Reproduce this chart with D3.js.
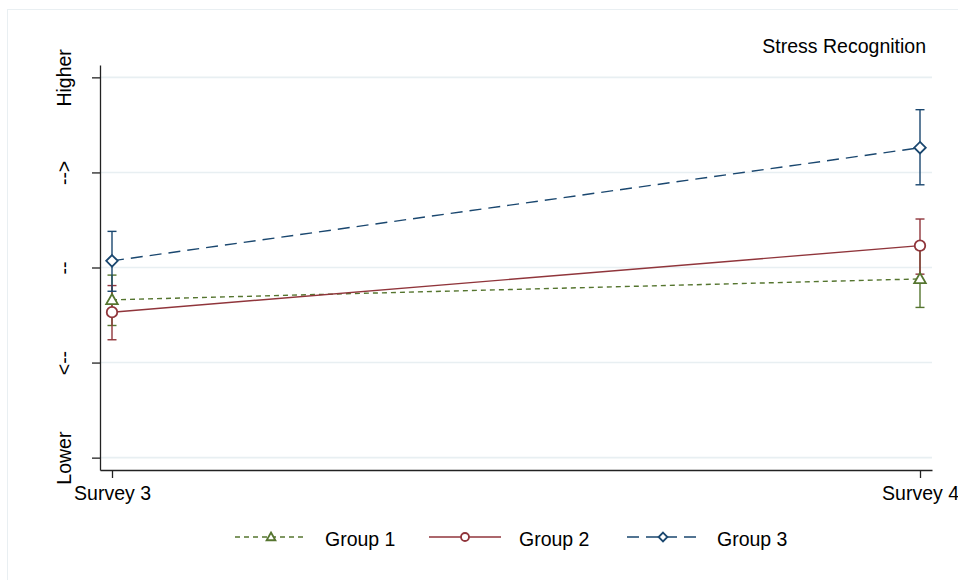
<!DOCTYPE html>
<html>
<head>
<meta charset="utf-8">
<script src="https://cdn.jsdelivr.net/npm/d3@7"></script>
<style>
  html, body { margin: 0; padding: 0; background: #fff; }
  svg { display: block; font-family: "Liberation Sans", Arial, Helvetica, sans-serif; }
</style>
</head>
<body>
<svg id="chart" width="958" height="580"></svg>
<script>
// Survey waves on the x axis
const surveys = ["Survey 3", "Survey 4"];
const groupNames = ["Group 1", "Group 2", "Group 3"];

// Mean scores and 95% interval bounds per survey
const group1Mean = [2.66, 2.88];
const group1Low  = [2.39, 2.58];
const group1High = [2.92, 3.19];

const group2Mean = [2.53, 3.23];
const group2Low  = [2.24, 2.93];
const group2High = [2.81, 3.51];

const group3Mean = [3.07, 4.26];
const group3Low  = [2.75, 3.87];
const group3High = [3.38, 4.66];

// Y axis ticks and their descriptive labels
const yTickValues = [1, 2, 3, 4, 5];
const yTickLabels = ["Lower", "<--", "--", "-->", "Higher"];

const chartTitle = "Stress Recognition";

// Series table built from the arrays above
const series = [
  { name: groupNames[0], mean: group1Mean, low: group1Low, high: group1High,
    color: "#55752f", dash: "5,4", marker: "triangle" },
  { name: groupNames[1], mean: group2Mean, low: group2Low, high: group2High,
    color: "#90353b", dash: null, marker: "circle" },
  { name: groupNames[2], mean: group3Mean, low: group3Low, high: group3High,
    color: "#1a476f", dash: "12,7", marker: "diamond" }
];

const fontSize = "19.5px";
const svg = d3.select("#chart");
const plotLeft = 100, plotRight = 932, plotTop = 65, plotBottom = 470;

// Light outer frame of the graph region
svg.append("rect")
  .attr("x", 7.5).attr("y", 9.5)
  .attr("width", 1000).attr("height", 1000)
  .attr("fill", "none")
  .attr("stroke", "#e9eff2")
  .attr("stroke-width", 1);

const x = d3.scalePoint()
  .domain(surveys)
  .range([plotLeft, plotRight])
  .padding(12 / 808);

const y = d3.scaleLinear()
  .domain([0.87, 5.13])
  .range([plotBottom, plotTop]);

// Horizontal grid lines
svg.append("g")
  .selectAll("line")
  .data(yTickValues)
  .join("line")
  .attr("x1", plotLeft).attr("x2", plotRight)
  .attr("y1", d => y(d)).attr("y2", d => y(d))
  .attr("stroke", "#e8eff2")
  .attr("stroke-width", 1.6);

// Y axis
const yAxis = svg.append("g")
  .attr("transform", `translate(${plotLeft},0)`)
  .call(d3.axisLeft(y)
    .tickValues(yTickValues)
    .tickFormat((d, i) => yTickLabels[i])
    .tickSize(8)
    .tickSizeOuter(0));
yAxis.select(".domain").attr("stroke", "#222").attr("stroke-width", 1.3);
yAxis.selectAll(".tick line").attr("stroke", "#222").attr("stroke-width", 1.3);
yAxis.selectAll(".tick text")
  .attr("x", null).attr("dy", null)
  .attr("transform", "translate(-29,0) rotate(-90)")
  .attr("text-anchor", "middle")
  .attr("fill", "#000")
  .style("font-size", fontSize)
  .style("font-family", "'Liberation Sans', Arial, sans-serif");

// X axis
const xAxis = svg.append("g")
  .attr("transform", `translate(0,${plotBottom})`)
  .call(d3.axisBottom(x).tickSize(8).tickSizeOuter(0));
xAxis.select(".domain").attr("stroke", "#222").attr("stroke-width", 1.3);
xAxis.selectAll(".tick line").attr("stroke", "#222").attr("stroke-width", 1.3);
xAxis.selectAll(".tick text")
  .attr("y", 30).attr("dy", null)
  .attr("fill", "#000")
  .style("font-size", fontSize)
  .style("font-family", "'Liberation Sans', Arial, sans-serif");

// Title in the top right corner
svg.append("text")
  .attr("x", 926).attr("y", 53)
  .attr("text-anchor", "end")
  .style("font-size", fontSize)
  .attr("fill", "#000")
  .text(chartTitle);

// Marker shapes
function markerPath(type, s) {
  if (type === "triangle") {
    const h = s * 0.9;
    return `M0,${-h * 0.62}L${s * 0.55},${h * 0.45}L${-s * 0.55},${h * 0.45}Z`;
  }
  if (type === "diamond") {
    return `M0,${-s * 0.55}L${s * 0.55},0L0,${s * 0.55}L${-s * 0.55},0Z`;
  }
  return null;
}

function drawMarker(g, type, cx, cy, s, color) {
  if (type === "circle") {
    g.append("circle")
      .attr("cx", cx).attr("cy", cy).attr("r", s * 0.5)
      .attr("fill", "#fff").attr("stroke", color).attr("stroke-width", 1.8);
  } else {
    g.append("path")
      .attr("d", markerPath(type, s))
      .attr("transform", `translate(${cx},${cy})`)
      .attr("fill", "#fff").attr("stroke", color).attr("stroke-width", 1.8);
  }
}

const capHalf = 4.5;
const plot = svg.append("g");

// Error bars with caps
series.forEach(s => {
  const g = plot.append("g");
  surveys.forEach((sv, i) => {
    const cx = x(sv);
    g.append("line")
      .attr("x1", cx).attr("x2", cx)
      .attr("y1", y(s.low[i])).attr("y2", y(s.high[i]))
      .attr("stroke", s.color).attr("stroke-width", 1.4);
    [s.low[i], s.high[i]].forEach(v => {
      g.append("line")
        .attr("x1", cx - capHalf).attr("x2", cx + capHalf)
        .attr("y1", y(v)).attr("y2", y(v))
        .attr("stroke", s.color).attr("stroke-width", 1.4);
    });
  });
});

// Connecting lines and markers
const line = d3.line().x((d, i) => x(surveys[i])).y(d => y(d));
series.forEach(s => {
  const g = plot.append("g");
  g.append("path")
    .attr("d", line(s.mean))
    .attr("fill", "none")
    .attr("stroke", s.color)
    .attr("stroke-width", 1.4)
    .attr("stroke-dasharray", s.dash);
  s.mean.forEach((v, i) => drawMarker(g, s.marker, x(surveys[i]), y(v), 10.5, s.color));
});

// Legend
const legendCenters = [271, 465, 663];
const legendY = 537;
const legend = svg.append("g");
series.forEach((s, i) => {
  const cx = legendCenters[i];
  const g = legend.append("g");
  g.append("line")
    .attr("x1", cx - 36).attr("x2", cx + 36)
    .attr("y1", legendY).attr("y2", legendY)
    .attr("stroke", s.color).attr("stroke-width", 1.4)
    .attr("stroke-dasharray", s.dash);
  drawMarker(g, s.marker, cx, legendY, 8, s.color);
  g.append("text")
    .attr("x", cx + 54).attr("y", legendY + 9)
    .style("font-size", fontSize)
    .attr("fill", "#000")
    .text(s.name);
});
</script>
</body>
</html>
